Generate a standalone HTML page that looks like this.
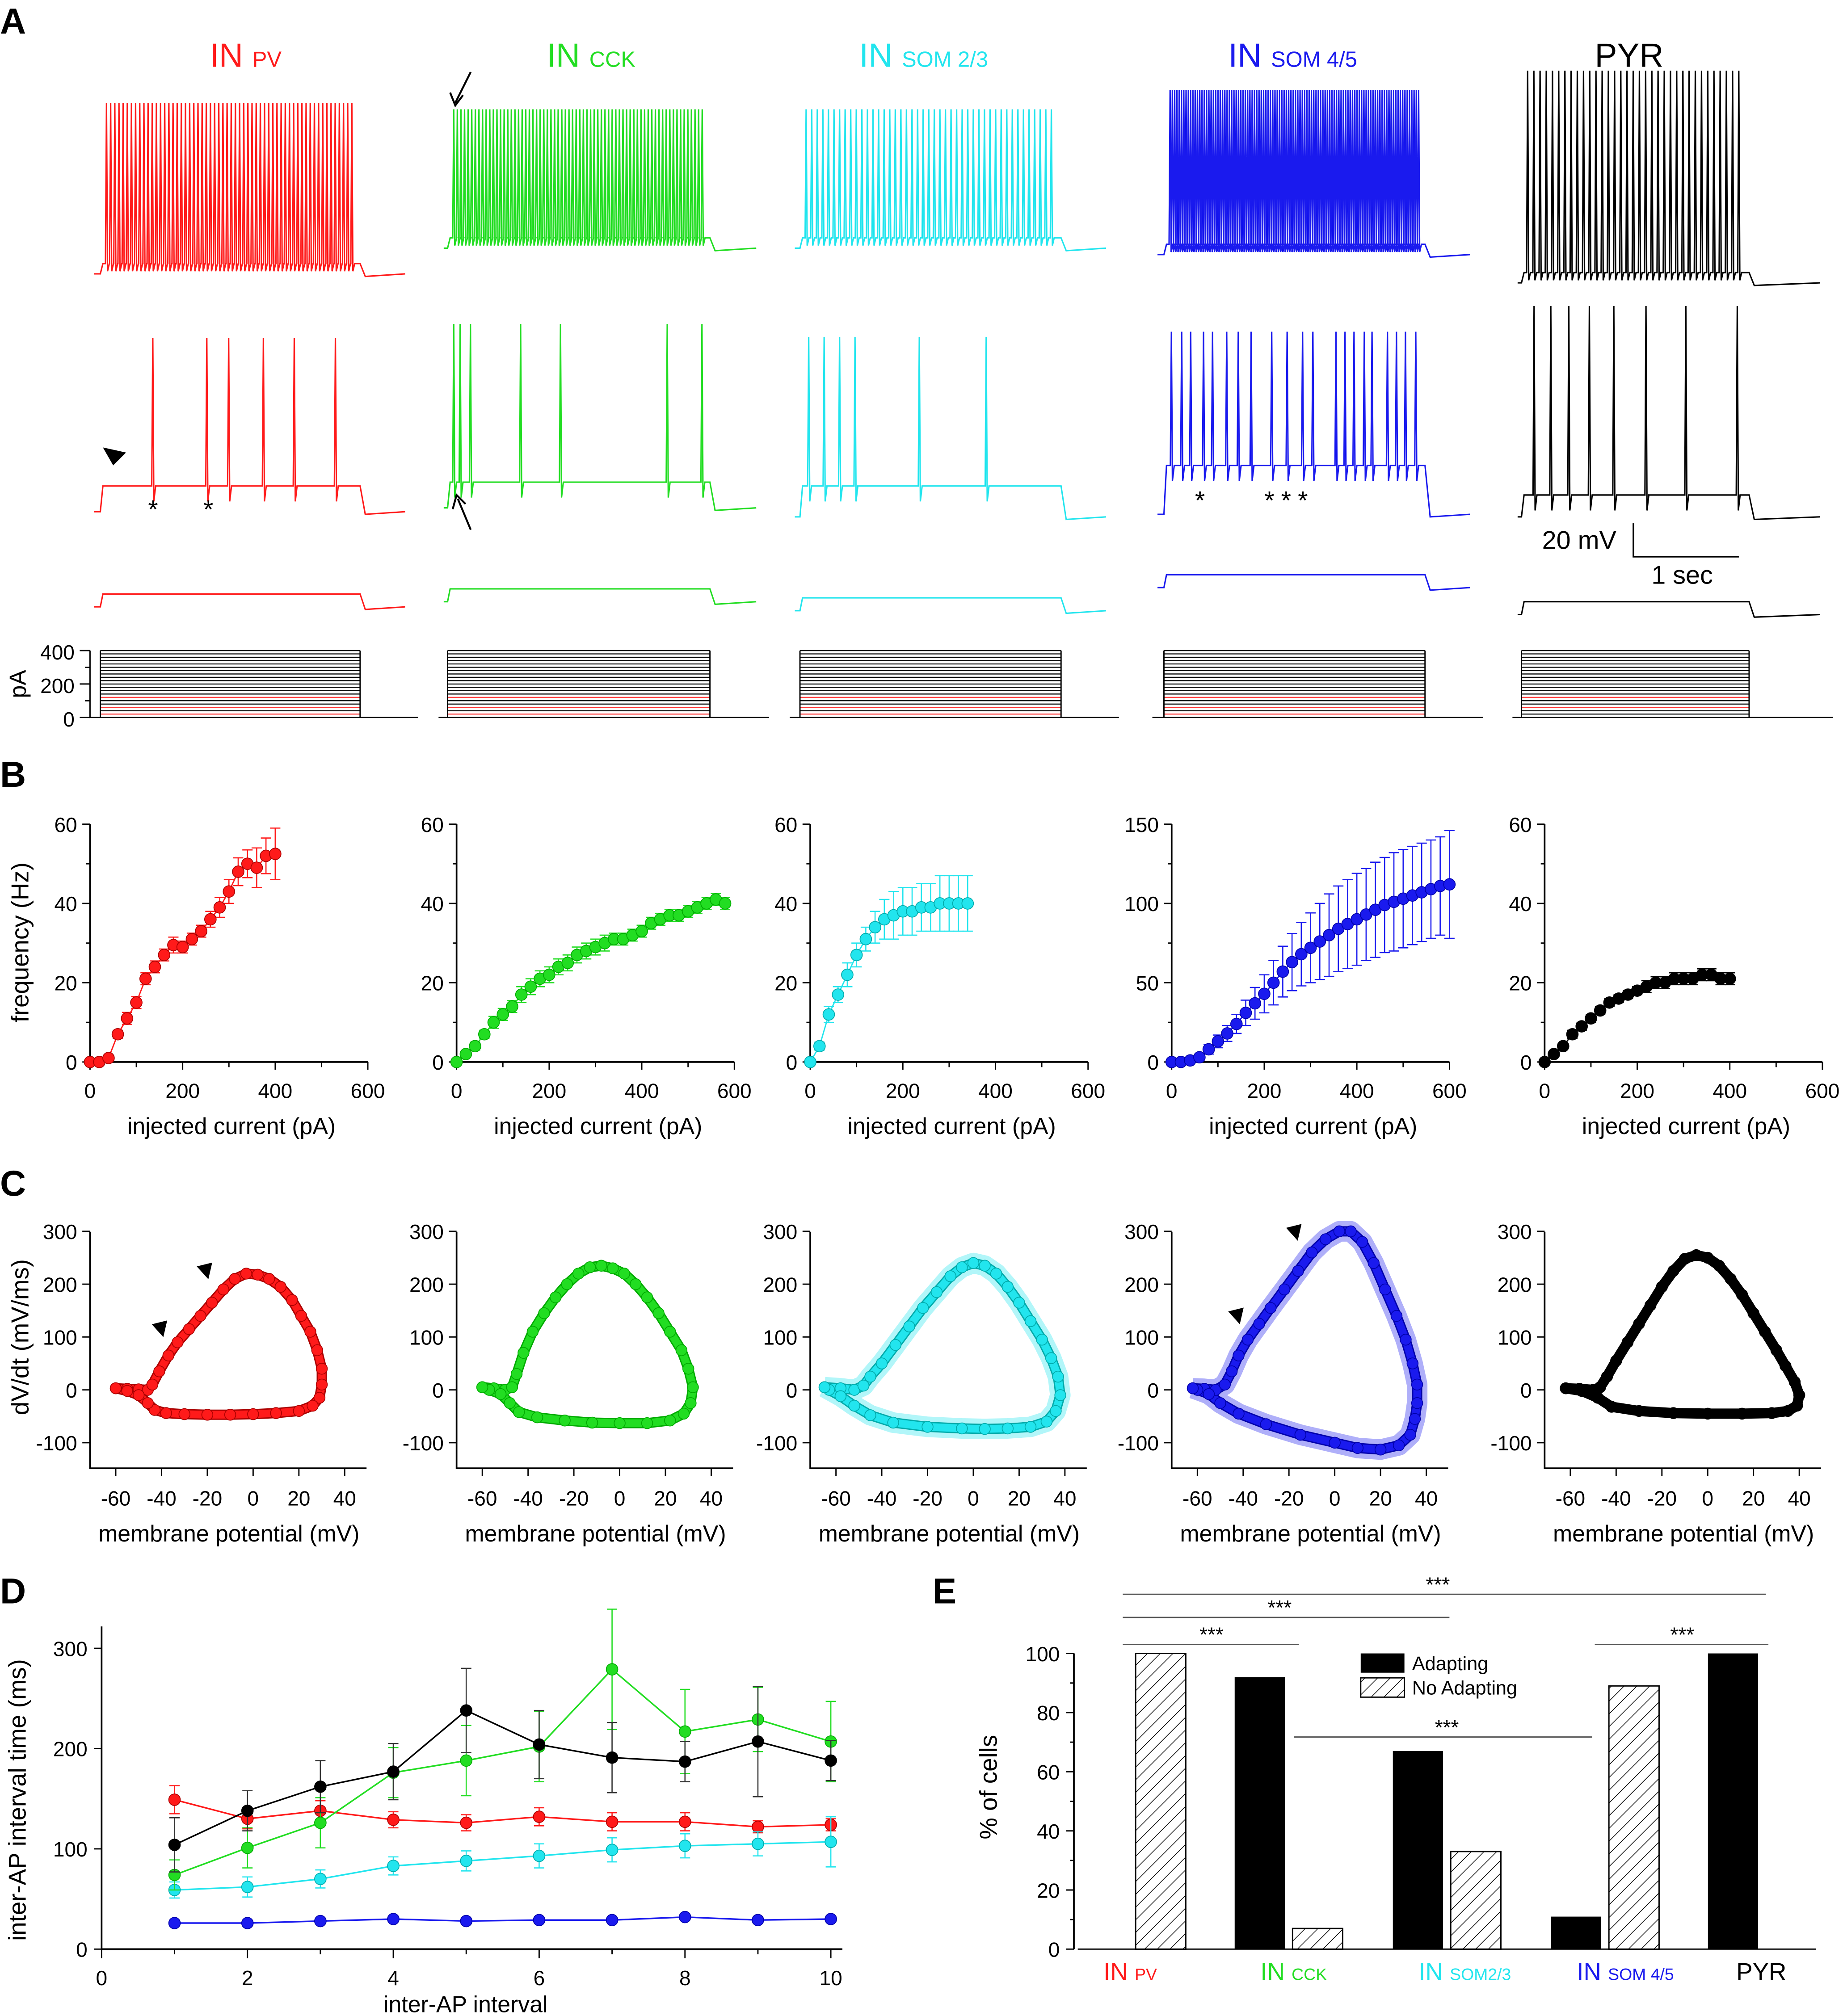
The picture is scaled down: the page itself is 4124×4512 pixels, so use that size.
<!DOCTYPE html>
<html><head><meta charset="utf-8"><style>
html,body{margin:0;padding:0;background:#fff}
svg{display:block}
text{font-family:"Liberation Sans",Arial,sans-serif}
</style></head><body>
<svg id="fig" xmlns="http://www.w3.org/2000/svg" width="4124" height="4512" viewBox="0 0 1433 1568" preserveAspectRatio="none">
<rect width="1433" height="1568" fill="#fff"/>
<g font-weight="bold" font-size="28">
<text x="0" y="26">A</text>
<text x="0" y="612">B</text>
<text x="0" y="930">C</text>
<text x="0" y="1247">D</text>
<text x="725" y="1247">E</text>
</g>
<g font-size="26">
<text x="163" y="52" fill="#ff1a1a">IN <tspan font-size="17">PV</tspan></text>
<text x="425" y="52" fill="#22dd22">IN <tspan font-size="17">CCK</tspan></text>
<text x="668" y="52" fill="#22e5ee">IN <tspan font-size="17">SOM 2/3</tspan></text>
<text x="955" y="52" fill="#1a1aee">IN <tspan font-size="17">SOM 4/5</tspan></text>
<text x="1240" y="52" fill="#000">PYR</text>
</g>
<g id="layer"></g>
</svg>
<script>
var NS='http://www.w3.org/2000/svg';
var layer=document.getElementById('layer');
function mk(tag,attrs,parent){var e=document.createElementNS(NS,tag);for(var k in attrs)e.setAttribute(k,attrs[k]);(parent||layer).appendChild(e);return e;}
function txt(x,y,s,attrs,parent){var e=mk('text',Object.assign({x:x,y:y},attrs||{}),parent);e.textContent=s;return e;}

var COLORS=['#ff1a1a','#22dd22','#22e5ee','#1a1aee','#000000'];
var DARK=['#a00','#0a0','#0aa','#00a','#000'];

/* ---------------- Panel A traces ---------------- */
var traceX0=[73,345,618,900,1180];
var stepStart=[78,348,622,905,1183];
var stepEnd=[280,552,825,1108,1360];
var traceX1=[315,588,860,1143,1415];
var row1Base=[205,185,185,190,212];
var row1Top=[80,85,85,70,55];
var row1Count=[60,70,45,110,35];
var row2Base=[378,375,378,362,385];
var row2Pre=[398,395,402,400,402];
var row2Top=[263,252,262,258,238];
var row2Spikes=[[118,160,177,204,228,260],[352,357,365,404,435,518,545],[628,640,652,664,714,766],
 [910,918,925,935,942,953,962,972,988,1000,1012,1020,1038,1045,1052,1060,1066,1078,1085,1092,1100],
 [1192,1205,1219,1235,1254,1279,1310,1350]];
var row3Base=[462,458,465,447,468];

function trace(i,baseY,preY,spikes,top,name){
  var d='M'+traceX0[i]+','+preY+' L'+stepStart[i]+','+preY+' L'+(stepStart[i]+2)+','+baseY;
  for(var k=0;k<spikes.length;k++){var s=spikes[k];
    d+=' L'+s+','+baseY+' L'+(s+0.8)+','+top+' L'+(s+1.6)+','+(baseY+(name==='r2'?12:6))+' L'+(s+3)+','+baseY;}
  d+=' L'+stepEnd[i]+','+baseY+' L'+(stepEnd[i]+4)+','+(preY+2)+' L'+traceX1[i]+','+preY;
  return mk('path',{d:d,fill:'none',stroke:COLORS[i],'stroke-width':1.1});
}
for(var i=0;i<5;i++){
  var sp=[];var n=row1Count[i];
  for(var k=0;k<n;k++){sp.push(stepStart[i]+4+(k/n)*(stepEnd[i]-stepStart[i]-8));}
  var p1=trace(i,row1Base[i],row1Base[i]+8,sp,row1Top[i],'r1');
  
  
  var p2=trace(i,row2Base[i],row2Pre[i],row2Spikes[i],row2Top[i],'r2');
  
  
  var p3=trace(i,row3Base[i],row3Base[i]+10,[],row3Base[i],'r3');
  
  
  var g=mk('g',{});
  
  
  for(var j=0;j<=20;j++){
    var y=558-j*2.6;var red=(j===1||j===3||j===6)&&i!==4||(i===4&&(j===3||j===6));
    var l=mk('line',{x1:stepStart[i],x2:stepEnd[i],y1:y,y2:y,stroke:red?'#f33':'#000','stroke-width':0.8},g);
    
    
  }
  var b=mk('path',{d:'M'+(traceX0[i]-4)+',558 L'+stepStart[i]+',558 L'+stepStart[i]+',506 M'+stepEnd[i]+',506 L'+stepEnd[i]+',558 L'+(traceX1[i]+10)+',558',stroke:'#000',fill:'none','stroke-width':1},g);
  
  
}
var pa=mk('path',{d:'M70,506 L70,558 M62,506 L70,506 M62,532 L70,532 M62,558 L70,558 M66,519 L70,519 M66,545 L70,545',stroke:'#000',fill:'none'});


var t;
t=txt(58,513,'400',{'font-size':16,'text-anchor':'end'});
t=txt(58,539,'200',{'font-size':16,'text-anchor':'end'});
t=txt(58,565,'0',{'font-size':16,'text-anchor':'end'});
t=txt(20,532,'pA',{'font-size':18,'text-anchor':'middle',transform:'rotate(-90 20 532)'});
var sb=mk('path',{d:'M1270,407 L1270,433 L1352,433',stroke:'#000',fill:'none','stroke-width':1.2});


t=txt(1199,427,'20 mV',{'font-size':20});
t=txt(1284,454,'1 sec',{'font-size':20});
var ann=[[119,403],[162,403],[933,396],[987,396],[1000,396],[1013,396]];
for(var k=0;k<ann.length;k++){t=txt(ann[k][0],ann[k][1],'*',{'font-size':20,'text-anchor':'middle'});}
var ah=mk('path',{d:'M80,348 L98,352 L88,362 Z',fill:'#000'});
var ar=mk('path',{d:'M366,56 L354,80 M350,72 L354,82 L360,74 M366,412 L356,388 M352,396 L355,385 L362,392',stroke:'#000',fill:'none','stroke-width':1.5});

/* ---------------- Panel B: f-I curves ---------------- */
var fiStep=20;
var fiPV=[0,0,1,7,11,15,21,24,27,29.5,29,31,33,36,39,43,48,50,49,52,52.5];
var fiCCK=[0,2,4,7,10,12,14,17,19,21,22,24,25,27,28,29,30,31,31,32,33,35,36,37,37,38,39,40,41,40];
var fiSOM23=[0,4,12,17,22,27,31,34,36,37,38,38,39,39,40,40,40,40];
var fiSOM45=[0,0,1,3,8,13,18,24,31,37,43,50,57,63,68,72,76,80,84,87,90,93,96,99,101,103,105,107,109,111,112];
var fiPYR=[0,2,4,7,9,11,13,15,16,17,18,19,20,20,21,21,21,22,22,21,21];
var fiErr=[[0,0,0,1,1.5,1.5,1.5,1.5,1.5,2,1.5,1.5,1.5,2,2.5,3,3.5,3.5,5,4.5,6.5],[0.5,0.5,1,1,1.5,1.5,1.5,2,2,2,2,2,2,2,2,2,2,1.5,1.5,1.5,1.5,1.5,1.5,1.5,1.5,1.5,1.5,1.5,1.5,1.5],
 [0,1,2,2,3,3,3,4,5,6,6,6,6,6,7,7,7,7],[0,0,1,2,3,4,5,6,8,10,12,14,16,18,20,22,24,26,27,28,29,29,30,30,31,31,31,31,31,31,34],
 [0,0.5,0.5,1,1,1,1,1,1,1,1,1.5,1.5,1.5,1.5,1.5,1.5,1.5,1.5,1.5,1.5]];
var fiAll=[fiPV,fiCCK,fiSOM23,fiSOM45,fiPYR];
var fiYMax=[60,60,60,150,60];
var fiYTicks=[[0,20,40,60],[0,20,40,60],[0,20,40,60],[0,50,100,150],[0,20,40,60]];
var fiXTicks=[0,200,400,600];
var axOX=[70,355,630,911,1201];
function bx(i,v){return axOX[i]+v*0.36;}
function by(i,v){return 826-v/fiYMax[i]*185;}
function marker(x,y,i,r,parent){
  return mk('circle',{cx:x,cy:y,r:r,fill:COLORS[i],stroke:DARK[i],'stroke-width':0.6},parent);
}
for(var i=0;i<5;i++){
  var g=mk('g',{});
  
  
  var a=mk('path',{d:'M'+axOX[i]+',641 L'+axOX[i]+',826 L'+(axOX[i]+216)+',826',stroke:'#000',fill:'none','stroke-width':1.3},g);
  
  
  var yt=fiYTicks[i];
  for(var k=0;k<yt.length;k++){
    var y=by(i,yt[k]);
    var tk=mk('line',{x1:axOX[i]-6,x2:axOX[i],y1:y,y2:y,stroke:'#000'},g);
    if(k<yt.length-1){var y2=by(i,(yt[k]+yt[k+1])/2);var tm=mk('line',{x1:axOX[i]-3,x2:axOX[i],y1:y2,y2:y2,stroke:'#000'},g);}
    var tl=txt(axOX[i]-10,y+6,String(yt[k]),{'font-size':16,'text-anchor':'end'},g);
  }
  for(var k=0;k<fiXTicks.length;k++){
    var x=bx(i,fiXTicks[k]);
    var tk=mk('line',{x1:x,x2:x,y1:826,y2:832,stroke:'#000'},g);
    if(k<fiXTicks.length-1){var xm=bx(i,fiXTicks[k]+100);var tm=mk('line',{x1:xm,x2:xm,y1:826,y2:830,stroke:'#000'},g);}
    var tl=txt(x,854,String(fiXTicks[k]),{'font-size':16,'text-anchor':'middle'},g);
  }
  var at=txt(axOX[i]+110,882,'injected current (pA)',{'font-size':18,'text-anchor':'middle'},g);
  var vals=fiAll[i];var pd='';
  for(var k=0;k<vals.length;k++){pd+=(k?' L':'M')+bx(i,k*fiStep)+','+by(i,vals[k]);}
  var ln=mk('path',{d:pd,fill:'none',stroke:COLORS[i],'stroke-width':1},g);
  for(var k=0;k<vals.length;k++){
    var x=bx(i,k*fiStep),e=fiErr[i][k];
    if(e>0){var eb=mk('path',{d:'M'+x+','+by(i,vals[k]-e)+' L'+x+','+by(i,vals[k]+e)+' M'+(x-4)+','+by(i,vals[k]-e)+' L'+(x+4)+','+by(i,vals[k]-e)+' M'+(x-4)+','+by(i,vals[k]+e)+' L'+(x+4)+','+by(i,vals[k]+e),stroke:COLORS[i],'stroke-width':0.9,fill:'none'},g);}
  }
  for(var k=0;k<vals.length;k++){var m=marker(bx(i,k*fiStep),by(i,vals[k]),i,4.5,g);}
}
t=txt(22,733,'frequency (Hz)',{'font-size':19,'text-anchor':'middle',transform:'rotate(-90 22 733)'});

/* ---------------- Panel C: phase plots ---------------- */
var ppV=[
 [-60,-55,-50,-46,-44,-41,-37,-33,-28,-23,-18,-13,-8,-3,2,7,12,17,21,25,28,30,30,29,26,20,10,0,-10,-20,-30,-38,-43,-46,-50,-55,-60],
 [-60,-55,-50,-47,-45,-42,-38,-33,-28,-23,-18,-13,-8,-3,2,7,12,17,22,27,30,32,31,28,22,12,0,-12,-24,-36,-44,-48,-52,-57,-60],
 [-65,-58,-52,-48,-45,-40,-34,-28,-22,-16,-10,-5,0,5,10,15,20,25,30,34,37,38,36,32,25,15,5,-5,-20,-35,-45,-52,-58,-63,-65],
 [-62,-57,-52,-48,-45,-42,-38,-33,-28,-22,-16,-10,-4,2,7,12,17,22,27,31,34,36,36,35,33,28,20,10,0,-15,-30,-42,-50,-55,-60,-62],
 [-62,-56,-50,-47,-44,-40,-35,-30,-25,-20,-15,-10,-5,0,5,10,15,20,25,30,34,38,40,39,35,28,15,0,-15,-30,-42,-48,-55,-62]];
var ppD=[
 [3,2,1,0,10,35,65,90,115,140,165,190,210,220,218,210,195,170,140,110,75,40,10,-15,-30,-40,-44,-46,-47,-47,-46,-44,-38,-25,-10,-2,3],
 [5,3,0,5,30,70,110,145,175,200,220,232,235,230,220,200,175,145,110,75,40,5,-25,-45,-58,-63,-63,-62,-58,-52,-42,-25,-8,0,5],
 [5,3,0,8,25,50,85,120,155,185,215,232,240,235,220,195,165,130,95,60,25,-10,-40,-60,-70,-73,-74,-73,-70,-62,-48,-30,-12,0,5],
 [3,2,0,10,35,65,95,125,155,190,225,260,285,300,300,280,240,190,140,95,50,10,-25,-55,-85,-105,-113,-110,-100,-85,-65,-45,-25,-8,0,3],
 [3,2,0,5,25,55,90,125,160,195,225,248,255,250,235,210,180,145,110,75,45,15,-10,-30,-40,-44,-45,-45,-44,-40,-32,-15,-2,3]];
var ppXTicks=[-60,-40,-20,0,20,40];
var ppYTicks=[-100,0,100,200,300];
function cx(i,v){return axOX[i]+20+(v+60)*1.78;}
function cy(v){return 1081-v*0.411;}
for(var i=0;i<5;i++){
  var g=mk('g',{});
  
  
  var a=mk('path',{d:'M'+axOX[i]+',958 L'+axOX[i]+',1142 L'+(axOX[i]+215)+',1142',stroke:'#000',fill:'none','stroke-width':1.3},g);
  
  for(var k=0;k<ppYTicks.length;k++){var y=cy(ppYTicks[k]);
    var tk=mk('line',{x1:axOX[i]-6,x2:axOX[i],y1:y,y2:y,stroke:'#000'},g);
    var tl=txt(axOX[i]-10,y+6,String(ppYTicks[k]),{'font-size':16,'text-anchor':'end'},g);}
  for(var k=0;k<ppXTicks.length;k++){var x=cx(i,ppXTicks[k]);
    var tk=mk('line',{x1:x,x2:x,y1:1142,y2:1148,stroke:'#000'},g);
    var tl=txt(x,1171,String(ppXTicks[k]),{'font-size':16,'text-anchor':'middle'},g);}
  var at=txt(axOX[i]+108,1199,'membrane potential (mV)',{'font-size':18,'text-anchor':'middle'},g);
  var V=ppV[i],D=ppD[i],pd='';
  for(var k=0;k<V.length;k++)pd+=(k?' L':'M')+cx(i,V[k])+','+cy(D[k]);
  if(i===2||i===3){var eb=mk('path',{d:pd,fill:'none',stroke:COLORS[i],'stroke-width':16,'stroke-opacity':0.35,'stroke-linejoin':'round'},g);}
  var ln=mk('path',{d:pd,fill:'none',stroke:DARK[i],'stroke-width':8,'stroke-linejoin':'round'},g);
  var ln2=mk('path',{d:pd,fill:'none',stroke:COLORS[i],'stroke-width':6,'stroke-linejoin':'round'},g);
  for(var k=0;k<V.length;k++){var m=marker(cx(i,V[k]),cy(D[k]),i,4.3,g);}
}
t=txt(22,1040,'dV/dt (mV/ms)',{'font-size':19,'text-anchor':'middle',transform:'rotate(-90 22 1040)'});
var ah2=mk('path',{d:'M118,1030 L130,1027 L127,1040 Z M153,985 L165,982 L162,995 Z M955,1020 L967,1017 L964,1030 Z M1000,955 L1012,952 L1009,965 Z',fill:'#000'});

/* ---------------- Panel D: inter-AP intervals ---------------- */
var isiX=[1,2,3,4,5,6,7,8,9,10];
var isiPV=[149,130,138,129,126,132,127,127,122,124];
var isiPYR=[104,138,162,177,238,204,191,187,207,188];
var isiCCK=[74,101,126,176,188,202,279,217,229,207];
var isiSOM23=[59,62,70,83,88,93,99,103,105,107];
var isiSOM45=[26,26,28,30,28,29,29,32,29,30];
var isiErrPV=[14,10,10,8,8,9,9,9,6,6];
var isiErrPYR=[27,20,26,28,42,34,35,20,55,20];
var isiErrCCK=[15,20,25,25,35,35,60,42,32,40];
var isiErrSOM23=[8,10,9,9,10,12,12,12,12,25];
var isiErrSOM45=[3,3,3,3,3,3,3,3,3,3];
var isiSeries=[isiPV,isiCCK,isiSOM23,isiSOM45,isiPYR];
var isiErrs=[isiErrPV,isiErrCCK,isiErrSOM23,isiErrSOM45,isiErrPYR];
var isiXTicks=[0,2,4,6,8,10];
var isiYTicks=[0,100,200,300];
function dx(v){return 79+v*56.7;}
function dy(v){return 1516-v*0.78;}
var gd=mk('g',{});


var ad=mk('path',{d:'M79,1265 L79,1516 L655,1516',stroke:'#000',fill:'none','stroke-width':1.3},gd);
for(var k=0;k<isiYTicks.length;k++){var y=dy(isiYTicks[k]);
  var tk=mk('line',{x1:73,x2:79,y1:y,y2:y,stroke:'#000'},gd);
  var tl=txt(68,y+6,String(isiYTicks[k]),{'font-size':16,'text-anchor':'end'},gd);}
for(var k=0;k<=10;k++){var x=dx(k);
  var tk=mk('line',{x1:x,x2:x,y1:1516,y2:k%2?1520:1523,stroke:'#000'},gd);}
for(var k=0;k<isiXTicks.length;k++){var tl=txt(dx(isiXTicks[k]),1544,String(isiXTicks[k]),{'font-size':16,'text-anchor':'middle'},gd);}
t=txt(362,1565,'inter-AP interval',{'font-size':18,'text-anchor':'middle'},gd);
t=txt(20,1400,'inter-AP interval time (ms)',{'font-size':19,'text-anchor':'middle',transform:'rotate(-90 20 1400)'},gd);
var order=[0,2,3,1,4];
for(var o=0;o<5;o++){var i=order[o];var vals=isiSeries[i],er=isiErrs[i],pd='';
  for(var k=0;k<vals.length;k++){pd+=(k?' L':'M')+dx(isiX[k])+','+dy(vals[k]);
    var x=dx(isiX[k]);var eb=mk('path',{d:'M'+x+','+dy(vals[k]-er[k])+' L'+x+','+dy(vals[k]+er[k])+' M'+(x-4)+','+dy(vals[k]-er[k])+' L'+(x+4)+','+dy(vals[k]-er[k])+' M'+(x-4)+','+dy(vals[k]+er[k])+' L'+(x+4)+','+dy(vals[k]+er[k]),stroke:i===4?'#333':COLORS[i],'stroke-width':0.9,fill:'none'},gd);
    }
  var ln=mk('path',{d:pd,fill:'none',stroke:COLORS[i],'stroke-width':1.2},gd);
  for(var k=0;k<vals.length;k++){var m=marker(dx(isiX[k]),dy(vals[k]),i,4.5,gd);}
}

/* ---------------- Panel E: adapting bars ---------------- */
var eCats=['PV','CCK','SOM2/3','SOM 4/5','PYR'];
var eAdapt=[0,92,67,11,100];
var eNoAdapt=[100,7,33,89,0];
var eYTicks=[0,20,40,60,80,100];
var eGroupX=[880,1002,1125,1248,1370];
function ey(v){return 1516-v*2.3;}
var ge=mk('g',{});


var defs=mk('defs',{},ge);
var pat=mk('pattern',{id:'hatch',width:7,height:7,patternUnits:'userSpaceOnUse',patternTransform:'rotate(45)'},defs);
var pl=mk('line',{x1:0,y1:0,x2:0,y2:7,stroke:'#000','stroke-width':1},pat);
var ae=mk('path',{d:'M835,1286 L835,1516',stroke:'#000','stroke-width':1.3},ge);
var bl=mk('line',{x1:838,x2:1412,y1:1516,y2:1516,stroke:'#000','stroke-width':1},ge);
for(var k=0;k<eYTicks.length;k++){var y=ey(eYTicks[k]);
  var tk=mk('line',{x1:829,x2:835,y1:y,y2:y,stroke:'#000'},ge);
  if(k<5){var ym=ey(eYTicks[k]+10);var tm=mk('line',{x1:832,x2:835,y1:ym,y2:ym,stroke:'#000'},ge);}
  var tl=txt(824,y+6,String(eYTicks[k]),{'font-size':16,'text-anchor':'end'},ge);}
t=txt(775,1390,'% of cells',{'font-size':19,'text-anchor':'middle',transform:'rotate(-90 775 1390)'},ge);
for(var i=0;i<5;i++){var gx=eGroupX[i];
  if(eAdapt[i]>0){var r=mk('rect',{x:gx-42,y:ey(eAdapt[i]),width:39,height:eAdapt[i]*2.3,fill:'#000'},ge);}
  if(eNoAdapt[i]>0){var r2=mk('rect',{x:gx+3,y:ey(eNoAdapt[i]),width:39,height:eNoAdapt[i]*2.3,fill:'url(#hatch)',stroke:'#000','stroke-width':1},ge);}
  var lb;
  if(i<4){lb=txt(gx-22,1540,'IN ',{'font-size':19,fill:COLORS[i]},ge);var ts=mk('tspan',{'font-size':13},lb);ts.textContent=eCats[i];}
  else{lb=txt(gx-20,1540,'PYR',{'font-size':19,fill:'#000'},ge);}
  
}
var sig=[[873,1373,1240,1118],[873,1127,1258,995],[873,1010,1279,942],[1006,1238,1351,1125],[1240,1375,1279,1308]];
for(var k=0;k<sig.length;k++){var s=sig[k];
  var sl=mk('line',{x1:s[0],x2:s[1],y1:s[2],y2:s[2],stroke:'#555','stroke-width':1},ge);
  var st=txt(s[3],s[2]-2,'***',{'font-size':16,'text-anchor':'middle'},ge);}
var lg1=mk('rect',{x:1058,y:1286,width:34,height:15,fill:'#000'},ge);
var lg2=mk('rect',{x:1058,y:1305,width:34,height:15,fill:'url(#hatch)',stroke:'#000'},ge);
t=txt(1098,1299,'Adapting',{'font-size':15},ge);
t=txt(1098,1318,'No Adapting',{'font-size':15},ge);
</script>
</body></html>
